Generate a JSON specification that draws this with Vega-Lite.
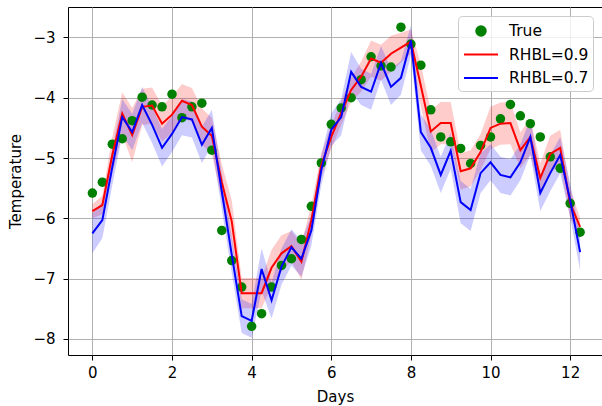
{
  "$schema": "https://vega.github.io/schema/vega-lite/v6.json",
  "width": 534,
  "height": 348,
  "autosize": {"type": "none"},
  "padding": {"left": 68, "top": 7, "right": 0, "bottom": 51},
  "background": "white",
  "config": {
    "view": {"stroke": "black", "strokeWidth": 1},
    "font": "DejaVu Sans",
    "axis": {
      "grid": true, "gridColor": "#b0b0b0", "gridWidth": 1,
      "domain": false, "tickColor": "black", "tickSize": 5, "tickWidth": 1,
      "labelColor": "black", "labelFontSize": 15, "labelFont": "DejaVu Sans",
      "titleColor": "black", "titleFontSize": 15, "titleFont": "DejaVu Sans", "titleFontWeight": "normal"
    }
  },
  "datasets": {
    "truth": [
      {"day":0,"series":"True","value":-5.58},{"day":0.25,"series":"True","value":-5.40},{"day":0.5,"series":"True","value":-4.77},{"day":0.75,"series":"True","value":-4.68},
      {"day":1.0,"series":"True","value":-4.38},{"day":1.25,"series":"True","value":-3.99},{"day":1.5,"series":"True","value":-4.12},{"day":1.75,"series":"True","value":-4.15},
      {"day":2.0,"series":"True","value":-3.94},{"day":2.25,"series":"True","value":-4.33},{"day":2.5,"series":"True","value":-4.15},{"day":2.75,"series":"True","value":-4.09},
      {"day":3.0,"series":"True","value":-4.87},{"day":3.25,"series":"True","value":-6.2},{"day":3.5,"series":"True","value":-6.70},{"day":3.75,"series":"True","value":-7.14},
      {"day":4.0,"series":"True","value":-7.79},{"day":4.25,"series":"True","value":-7.58},{"day":4.5,"series":"True","value":-7.14},{"day":4.75,"series":"True","value":-6.78},
      {"day":5.0,"series":"True","value":-6.67},{"day":5.25,"series":"True","value":-6.35},{"day":5.5,"series":"True","value":-5.80},{"day":5.75,"series":"True","value":-5.08},
      {"day":6.0,"series":"True","value":-4.44},{"day":6.25,"series":"True","value":-4.17},{"day":6.5,"series":"True","value":-4.00},{"day":6.75,"series":"True","value":-3.70},
      {"day":7.0,"series":"True","value":-3.32},{"day":7.25,"series":"True","value":-3.47},{"day":7.5,"series":"True","value":-3.49},{"day":7.75,"series":"True","value":-2.83},
      {"day":8.0,"series":"True","value":-3.11},{"day":8.25,"series":"True","value":-3.46},{"day":8.5,"series":"True","value":-4.20},{"day":8.75,"series":"True","value":-4.65},
      {"day":9.0,"series":"True","value":-4.73},{"day":9.25,"series":"True","value":-4.84},{"day":9.5,"series":"True","value":-5.09},{"day":9.75,"series":"True","value":-4.79},
      {"day":10.0,"series":"True","value":-4.65},{"day":10.25,"series":"True","value":-4.35},{"day":10.5,"series":"True","value":-4.11},{"day":10.75,"series":"True","value":-4.30},
      {"day":11.0,"series":"True","value":-4.43},{"day":11.25,"series":"True","value":-4.65},{"day":11.5,"series":"True","value":-4.98},{"day":11.75,"series":"True","value":-5.17},
      {"day":12.0,"series":"True","value":-5.75},{"day":12.25,"series":"True","value":-6.23}
    ],
    "model": [
      {"day":0,"series":"RHBL=0.9","value":-5.88,"lo":-6.00,"hi":-5.76},
      {"day":0.25,"series":"RHBL=0.9","value":-5.78,"lo":-5.93,"hi":-5.63},
      {"day":0.5,"series":"RHBL=0.9","value":-4.95,"lo":-5.25,"hi":-4.65},
      {"day":0.75,"series":"RHBL=0.9","value":-4.26,"lo":-4.61,"hi":-3.91},
      {"day":1.0,"series":"RHBL=0.9","value":-4.62,"lo":-5.07,"hi":-4.17},
      {"day":1.25,"series":"RHBL=0.9","value":-4.15,"lo":-4.45,"hi":-3.85},
      {"day":1.5,"series":"RHBL=0.9","value":-4.13,"lo":-4.43,"hi":-3.83},
      {"day":1.75,"series":"RHBL=0.9","value":-4.43,"lo":-4.73,"hi":-4.13},
      {"day":2.0,"series":"RHBL=0.9","value":-4.28,"lo":-4.58,"hi":-3.98},
      {"day":2.25,"series":"RHBL=0.9","value":-4.05,"lo":-4.33,"hi":-3.77},
      {"day":2.5,"series":"RHBL=0.9","value":-4.12,"lo":-4.40,"hi":-3.84},
      {"day":2.75,"series":"RHBL=0.9","value":-4.48,"lo":-4.78,"hi":-4.18},
      {"day":3.0,"series":"RHBL=0.9","value":-4.63,"lo":-4.93,"hi":-4.33},
      {"day":3.25,"series":"RHBL=0.9","value":-5.4,"lo":-5.7,"hi":-5.1},
      {"day":3.5,"series":"RHBL=0.9","value":-6.05,"lo":-6.4,"hi":-5.7},
      {"day":3.75,"series":"RHBL=0.9","value":-7.24,"lo":-7.49,"hi":-6.99},
      {"day":4.0,"series":"RHBL=0.9","value":-7.24,"lo":-7.49,"hi":-6.99},
      {"day":4.25,"series":"RHBL=0.9","value":-7.24,"lo":-7.49,"hi":-6.99},
      {"day":4.5,"series":"RHBL=0.9","value":-6.82,"lo":-7.12,"hi":-6.52},
      {"day":4.75,"series":"RHBL=0.9","value":-6.58,"lo":-6.88,"hi":-6.28},
      {"day":5.0,"series":"RHBL=0.9","value":-6.46,"lo":-6.71,"hi":-6.21},
      {"day":5.25,"series":"RHBL=0.9","value":-6.72,"lo":-7.02,"hi":-6.42},
      {"day":5.5,"series":"RHBL=0.9","value":-6.03,"lo":-6.28,"hi":-5.78},
      {"day":5.75,"series":"RHBL=0.9","value":-5.12,"lo":-5.32,"hi":-4.92},
      {"day":6.0,"series":"RHBL=0.9","value":-4.65,"lo":-4.85,"hi":-4.45},
      {"day":6.25,"series":"RHBL=0.9","value":-4.25,"lo":-4.45,"hi":-4.05},
      {"day":6.5,"series":"RHBL=0.9","value":-3.87,"lo":-4.07,"hi":-3.67},
      {"day":6.75,"series":"RHBL=0.9","value":-3.65,"lo":-3.9,"hi":-3.4},
      {"day":7.0,"series":"RHBL=0.9","value":-3.35,"lo":-3.65,"hi":-3.05},
      {"day":7.25,"series":"RHBL=0.9","value":-3.42,"lo":-3.72,"hi":-3.12},
      {"day":7.5,"series":"RHBL=0.9","value":-3.27,"lo":-3.57,"hi":-2.97},
      {"day":7.75,"series":"RHBL=0.9","value":-3.17,"lo":-3.42,"hi":-2.92},
      {"day":8.0,"series":"RHBL=0.9","value":-3.07,"lo":-3.27,"hi":-2.87},
      {"day":8.25,"series":"RHBL=0.9","value":-3.8,"lo":-4.15,"hi":-3.45},
      {"day":8.5,"series":"RHBL=0.9","value":-4.56,"lo":-4.91,"hi":-4.21},
      {"day":8.75,"series":"RHBL=0.9","value":-4.42,"lo":-4.77,"hi":-4.07},
      {"day":9.0,"series":"RHBL=0.9","value":-4.42,"lo":-4.77,"hi":-4.07},
      {"day":9.25,"series":"RHBL=0.9","value":-5.22,"lo":-5.52,"hi":-4.92},
      {"day":9.5,"series":"RHBL=0.9","value":-5.17,"lo":-5.47,"hi":-4.87},
      {"day":9.75,"series":"RHBL=0.9","value":-4.9,"lo":-5.2,"hi":-4.6},
      {"day":10.0,"series":"RHBL=0.9","value":-4.5,"lo":-4.85,"hi":-4.15},
      {"day":10.25,"series":"RHBL=0.9","value":-4.43,"lo":-4.78,"hi":-4.08},
      {"day":10.5,"series":"RHBL=0.9","value":-4.42,"lo":-4.77,"hi":-4.07},
      {"day":10.75,"series":"RHBL=0.9","value":-4.87,"lo":-5.17,"hi":-4.57},
      {"day":11.0,"series":"RHBL=0.9","value":-4.65,"lo":-4.95,"hi":-4.35},
      {"day":11.25,"series":"RHBL=0.9","value":-5.33,"lo":-5.58,"hi":-5.08},
      {"day":11.5,"series":"RHBL=0.9","value":-4.93,"lo":-5.23,"hi":-4.63},
      {"day":11.75,"series":"RHBL=0.9","value":-4.83,"lo":-5.13,"hi":-4.53},
      {"day":12.0,"series":"RHBL=0.9","value":-5.75,"lo":-6.0,"hi":-5.5},
      {"day":12.25,"series":"RHBL=0.9","value":-6.14,"lo":-6.29,"hi":-5.99},
      {"day":0,"series":"RHBL=0.7","value":-6.25,"lo":-6.58,"hi":-5.92},
      {"day":0.25,"series":"RHBL=0.7","value":-6.03,"lo":-6.33,"hi":-5.73},
      {"day":0.5,"series":"RHBL=0.7","value":-5.15,"lo":-5.45,"hi":-4.85},
      {"day":0.75,"series":"RHBL=0.7","value":-4.32,"lo":-4.62,"hi":-4.02},
      {"day":1.0,"series":"RHBL=0.7","value":-4.57,"lo":-4.87,"hi":-4.27},
      {"day":1.25,"series":"RHBL=0.7","value":-4.12,"lo":-4.42,"hi":-3.82},
      {"day":1.5,"series":"RHBL=0.7","value":-4.45,"lo":-4.75,"hi":-4.15},
      {"day":1.75,"series":"RHBL=0.7","value":-4.83,"lo":-5.14,"hi":-4.52},
      {"day":2.0,"series":"RHBL=0.7","value":-4.6,"lo":-4.9,"hi":-4.3},
      {"day":2.25,"series":"RHBL=0.7","value":-4.32,"lo":-4.62,"hi":-4.02},
      {"day":2.5,"series":"RHBL=0.7","value":-4.36,"lo":-4.66,"hi":-4.06},
      {"day":2.75,"series":"RHBL=0.7","value":-4.78,"lo":-5.08,"hi":-4.48},
      {"day":3.0,"series":"RHBL=0.7","value":-4.5,"lo":-4.8,"hi":-4.2},
      {"day":3.25,"series":"RHBL=0.7","value":-5.55,"lo":-5.85,"hi":-5.25},
      {"day":3.5,"series":"RHBL=0.7","value":-6.6,"lo":-6.9,"hi":-6.3},
      {"day":3.75,"series":"RHBL=0.7","value":-7.62,"lo":-7.9,"hi":-7.34},
      {"day":4.0,"series":"RHBL=0.7","value":-7.70,"lo":-7.98,"hi":-7.42},
      {"day":4.25,"series":"RHBL=0.7","value":-6.84,"lo":-7.2,"hi":-6.5},
      {"day":4.5,"series":"RHBL=0.7","value":-7.36,"lo":-7.66,"hi":-7.06},
      {"day":4.75,"series":"RHBL=0.7","value":-6.8,"lo":-7.1,"hi":-6.5},
      {"day":5.0,"series":"RHBL=0.7","value":-6.48,"lo":-6.78,"hi":-6.18},
      {"day":5.25,"series":"RHBL=0.7","value":-6.67,"lo":-6.97,"hi":-6.37},
      {"day":5.5,"series":"RHBL=0.7","value":-6.2,"lo":-6.45,"hi":-5.95},
      {"day":5.75,"series":"RHBL=0.7","value":-5.2,"lo":-5.45,"hi":-4.95},
      {"day":6.0,"series":"RHBL=0.7","value":-4.53,"lo":-4.8,"hi":-4.26},
      {"day":6.25,"series":"RHBL=0.7","value":-4.32,"lo":-4.62,"hi":-4.02},
      {"day":6.5,"series":"RHBL=0.7","value":-3.57,"lo":-3.9,"hi":-3.24},
      {"day":6.75,"series":"RHBL=0.7","value":-3.82,"lo":-4.12,"hi":-3.52},
      {"day":7.0,"series":"RHBL=0.7","value":-3.9,"lo":-4.2,"hi":-3.6},
      {"day":7.25,"series":"RHBL=0.7","value":-3.42,"lo":-3.7,"hi":-3.14},
      {"day":7.5,"series":"RHBL=0.7","value":-3.82,"lo":-4.12,"hi":-3.52},
      {"day":7.75,"series":"RHBL=0.7","value":-3.67,"lo":-3.95,"hi":-3.39},
      {"day":8.0,"series":"RHBL=0.7","value":-3.05,"lo":-3.3,"hi":-2.8},
      {"day":8.25,"series":"RHBL=0.7","value":-4.57,"lo":-4.87,"hi":-4.27},
      {"day":8.5,"series":"RHBL=0.7","value":-4.83,"lo":-5.13,"hi":-4.53},
      {"day":8.75,"series":"RHBL=0.7","value":-5.28,"lo":-5.58,"hi":-4.98},
      {"day":9.0,"series":"RHBL=0.7","value":-4.88,"lo":-5.18,"hi":-4.58},
      {"day":9.25,"series":"RHBL=0.7","value":-5.73,"lo":-6.08,"hi":-5.38},
      {"day":9.5,"series":"RHBL=0.7","value":-5.86,"lo":-6.21,"hi":-5.51},
      {"day":9.75,"series":"RHBL=0.7","value":-5.25,"lo":-5.58,"hi":-4.92},
      {"day":10.0,"series":"RHBL=0.7","value":-5.07,"lo":-5.37,"hi":-4.77},
      {"day":10.25,"series":"RHBL=0.7","value":-5.28,"lo":-5.58,"hi":-4.98},
      {"day":10.5,"series":"RHBL=0.7","value":-5.32,"lo":-5.62,"hi":-5.02},
      {"day":10.75,"series":"RHBL=0.7","value":-5.07,"lo":-5.37,"hi":-4.77},
      {"day":11.0,"series":"RHBL=0.7","value":-4.65,"lo":-4.95,"hi":-4.35},
      {"day":11.25,"series":"RHBL=0.7","value":-5.58,"lo":-5.88,"hi":-5.28},
      {"day":11.5,"series":"RHBL=0.7","value":-5.25,"lo":-5.55,"hi":-4.95},
      {"day":11.75,"series":"RHBL=0.7","value":-4.95,"lo":-5.25,"hi":-4.65},
      {"day":12.0,"series":"RHBL=0.7","value":-5.7,"lo":-5.98,"hi":-5.42},
      {"day":12.25,"series":"RHBL=0.7","value":-6.56,"lo":-6.86,"hi":-6.26}
    ]
  },
  "encoding": {
    "x": {"field": "day", "type": "quantitative", "title": "Days",
      "scale": {"domain": [-0.6125, 12.8], "nice": false, "zero": false},
      "axis": {"values": [0,2,4,6,8,10,12], "format": "d", "labelPadding": 5, "titlePadding": 9}},
    "color": {"field": "series", "type": "nominal",
      "scale": {"domain": ["True", "RHBL=0.9", "RHBL=0.7"], "range": ["#008000", "#ff0000", "#0000ff"]},
      "legend": {
        "title": null, "orient": "none", "legendX": 390, "legendY": 9,
        "fillColor": "rgba(255,255,255,0.8)", "strokeColor": "#cccccc", "cornerRadius": 4,
        "padding": 4, "rowPadding": 3.5, "symbolOffset": 8, "symbolSize": 400,
        "labelFontSize": 15.5, "labelFont": "DejaVu Sans", "labelColor": "black",
        "labelOffset": 17,
        "encode": {
          "symbols": {"update": {
            "shape": {"signal": "datum.value === 'True' ? 'circle' : 'M-1.7,0H1.7'"},
            "size": {"signal": "datum.value === 'True' ? 90 : 400"},
            "fill": {"signal": "datum.value === 'True' ? '#008000' : 'transparent'"},
            "stroke": {"signal": "datum.value === 'True' ? 'transparent' : scale('color', datum.value)"},
            "strokeWidth": {"value": 2},
            "opacity": {"value": 1}
          }}
        }
      }}
  },
  "layer": [
    {
      "data": {"name": "model"},
      "mark": {"type": "area", "opacity": 0.2},
      "encoding": {
        "y": {"field": "lo", "type": "quantitative", "title": "Temperature",
          "scale": {"domain": [-8.266, -2.495], "nice": false, "zero": false},
          "axis": {"values": [-8,-7,-6,-5,-4,-3], "format": "d", "labelPadding": 8, "titlePadding": 9}},
        "y2": {"field": "hi"}
      }
    },
    {
      "data": {"name": "truth"},
      "mark": {"type": "point", "filled": true, "size": 90, "opacity": 1},
      "encoding": {
        "y": {"field": "value", "type": "quantitative"}
      }
    },
    {
      "data": {"name": "model"},
      "mark": {"type": "line", "strokeWidth": 2},
      "encoding": {
        "y": {"field": "value", "type": "quantitative"}
      }
    }
  ]
}
